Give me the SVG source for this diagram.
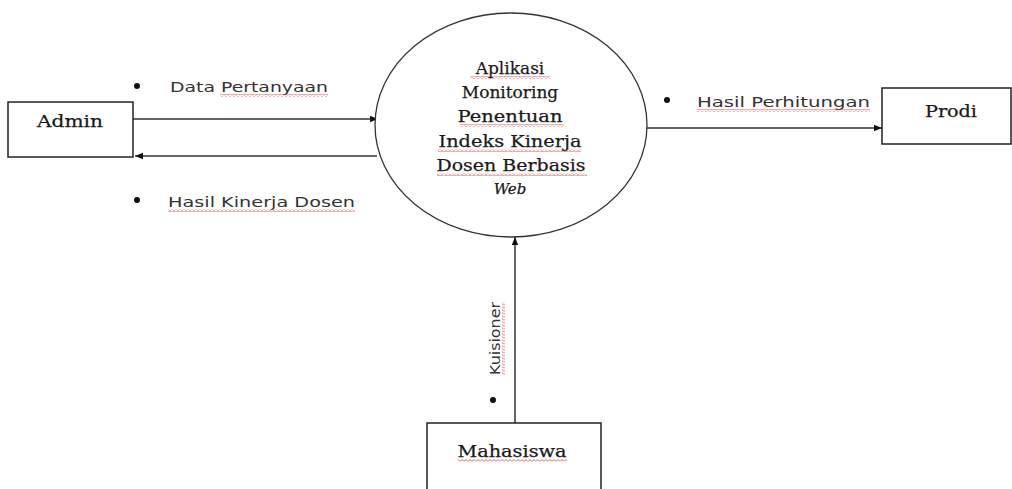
<svg xmlns="http://www.w3.org/2000/svg" width="1012" height="489" viewBox="0 0 1012 489">
<style>
.box{fill:#fff;stroke:#222;stroke-width:1.5}
.ln{fill:none;stroke:#333;stroke-width:1.5}
.serif{font-family:"DejaVu Serif","Liberation Serif",serif;fill:#1a1a1a;stroke:#1a1a1a;stroke-width:0.25}
.sans{font-family:"DejaVu Sans","Liberation Sans",sans-serif;fill:#333;font-size:14px}
.wave{fill:url(#wv)}
.dot{fill:#111}
</style>
<defs>
<marker id="ah" viewBox="0 0 10 10" refX="10" refY="5" markerWidth="8" markerHeight="8" markerUnits="userSpaceOnUse" orient="auto">
<path d="M0,1 L10,5 L0,9 Z" fill="#111"/>
</marker>
<pattern id="wv" width="4" height="3" patternUnits="userSpaceOnUse">
<path d="M0,2.5 L2,0.5 L4,2.5" fill="none" stroke="#e0303a" stroke-width="0.8"/>
</pattern>
</defs>
<rect width="1012" height="489" fill="#fff"/>
<g id="connectors">
<line class="ln" x1="133" y1="119" x2="378" y2="119" marker-end="url(#ah)"/>
<line class="ln" x1="377" y1="156" x2="135" y2="156" marker-end="url(#ah)"/>
<line class="ln" x1="646" y1="128" x2="882" y2="128" marker-end="url(#ah)"/>
<line class="ln" x1="515" y1="423" x2="515" y2="237" marker-end="url(#ah)"/>
</g>
<g id="process">
<ellipse cx="511" cy="125" rx="136" ry="112" fill="#fff" stroke="#333" stroke-width="1.3"/>
<g class="serif" font-size="17" text-anchor="middle">
<text x="510" y="74">Aplikasi</text>
<text x="510" y="98">Monitoring</text>
<text x="510" y="122" textLength="105" lengthAdjust="spacingAndGlyphs">Penentuan</text>
<text x="510" y="147" textLength="143" lengthAdjust="spacingAndGlyphs">Indeks Kinerja</text>
<text x="511" y="171" textLength="149" lengthAdjust="spacingAndGlyphs">Dosen Berbasis</text>
<text x="510" y="194" font-style="italic" font-size="15">Web</text>
</g>
<rect class="wave" x="470" y="76" width="80" height="3"/>
<rect class="wave" x="460" y="124" width="104" height="3"/>
<rect class="wave" x="438" y="149" width="143" height="3"/>
<rect class="wave" x="437" y="173" width="150" height="3"/>
</g>
<g id="admin">
<rect class="box" x="8" y="102" width="125" height="55"/>
<text class="serif" x="70" y="127" font-size="16" text-anchor="middle" textLength="66" lengthAdjust="spacingAndGlyphs">Admin</text>
</g>
<g id="prodi">
<rect class="box" x="882" y="88" width="129" height="56"/>
<text class="serif" x="951" y="117" font-size="16" text-anchor="middle" textLength="52" lengthAdjust="spacingAndGlyphs">Prodi</text>
</g>
<g id="mahasiswa">
<rect class="box" x="427" y="423" width="174" height="70"/>
<text class="serif" x="512" y="457" font-size="16" text-anchor="middle" textLength="109" lengthAdjust="spacingAndGlyphs">Mahasiswa</text>
<rect class="wave" x="458" y="459" width="109" height="3"/>
</g>
<g id="label-data-pertanyaan">
<circle class="dot" cx="137" cy="86" r="3"/>
<text class="sans" x="170" y="92" textLength="158" lengthAdjust="spacingAndGlyphs">Data Pertanyaan</text>
<rect class="wave" x="220" y="94" width="108" height="3"/>
</g>
<g id="label-hasil-kinerja">
<circle class="dot" cx="137" cy="200" r="3"/>
<text class="sans" x="168" y="207" textLength="187" lengthAdjust="spacingAndGlyphs">Hasil Kinerja Dosen</text>
<rect class="wave" x="168" y="209" width="187" height="3"/>
</g>
<g id="label-hasil-perhitungan">
<circle class="dot" cx="667" cy="100" r="3"/>
<text class="sans" x="697" y="107" textLength="173" lengthAdjust="spacingAndGlyphs">Hasil Perhitungan</text>
<rect class="wave" x="697" y="109" width="173" height="3"/>
</g>
<g id="label-kuisioner">
<circle class="dot" cx="493" cy="400" r="3"/>
<text class="sans" transform="translate(500,375) rotate(-90)" x="0" y="0" font-size="14" textLength="73" lengthAdjust="spacingAndGlyphs">Kuisioner</text>
<rect class="wave" x="502" y="302" width="3" height="73"/>
</g>
</svg>
